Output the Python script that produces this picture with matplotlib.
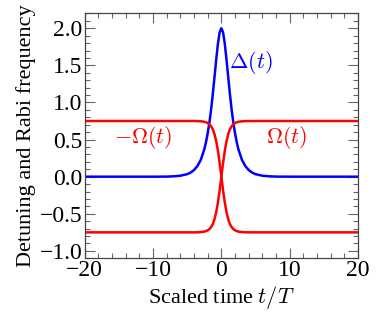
import matplotlib
matplotlib.use('Agg')
import matplotlib.pyplot as plt
from matplotlib.ticker import MultipleLocator

plt.rcParams['font.family'] = ['Liberation Serif', 'DejaVu Serif']
plt.rcParams['mathtext.fontset'] = 'cm'

# scaled time t/T
t = [-20, -14, -10, -8, -7, -6, -5, -4.5, -4, -3.5, -3, -2.5, -2.25, -2,
     -1.75, -1.5, -1.25, -1, -0.75, -0.5, -0.25, 0, 0.25, 0.5, 0.75, 1,
     1.25, 1.5, 1.75, 2, 2.25, 2.5, 3, 3.5, 4, 4.5, 5, 6, 7, 8, 10, 14, 20]

# detuning Delta(t)
delta = [0.0, 0.0, 0.0, 0.001, 0.005, 0.013, 0.034, 0.055, 0.089, 0.143,
         0.229, 0.367, 0.464, 0.583, 0.730, 0.905, 1.114, 1.344, 1.580,
         1.793, 1.945, 2.0, 1.945, 1.793, 1.580, 1.344, 1.114, 0.905, 0.730,
         0.583, 0.464, 0.367, 0.229, 0.143, 0.089, 0.055, 0.034, 0.013,
         0.005, 0.001, 0.0, 0.0, 0.0]

# Rabi frequency Omega(t)
omega = [-0.75, -0.75, -0.75, -0.75, -0.75, -0.75, -0.75, -0.75, -0.75,
         -0.749, -0.746, -0.74, -0.733, -0.723, -0.706, -0.679, -0.639,
         -0.571, -0.477, -0.347, -0.184, 0.0, 0.184, 0.347, 0.477, 0.571,
         0.639, 0.679, 0.706, 0.723, 0.733, 0.74, 0.746, 0.749, 0.75, 0.75,
         0.75, 0.75, 0.75, 0.75, 0.75, 0.75, 0.75]

# -Omega(t)
neg_omega = [0.75, 0.75, 0.75, 0.75, 0.75, 0.75, 0.75, 0.75, 0.75,
             0.749, 0.746, 0.74, 0.733, 0.723, 0.706, 0.679, 0.639,
             0.571, 0.477, 0.347, 0.184, 0.0, -0.184, -0.347, -0.477, -0.571,
             -0.639, -0.679, -0.706, -0.723, -0.733, -0.74, -0.746, -0.749,
             -0.75, -0.75, -0.75, -0.75, -0.75, -0.75, -0.75, -0.75, -0.75]

fig = plt.figure(figsize=(3.81, 3.27), dpi=100)
ax = fig.add_axes([0.222, 0.210, 0.718, 0.749])

ax.plot(t, delta, color='#0000ff', linewidth=1.8)
ax.plot(t, omega, color='#ff0000', linewidth=1.8)
ax.plot(t, neg_omega, color='#ff0000', linewidth=1.8)

ax.text(4.25, 1.54, r'$\Delta(t)$', color='#0000ff', fontsize=16,
        ha='center', va='center')
ax.text(-11.4, 0.53, r'$-\Omega(t)$', color='#ff0000', fontsize=16,
        ha='center', va='center')
ax.text(9.5, 0.53, r'$\Omega(t)$', color='#ff0000', fontsize=16,
        ha='center', va='center')

ax.set_xlim(-20, 20)
ax.set_ylim(-1.1, 2.2)
ax.xaxis.set_major_locator(MultipleLocator(10))
ax.xaxis.set_minor_locator(MultipleLocator(2))
ax.yaxis.set_major_locator(MultipleLocator(0.5))
ax.yaxis.set_minor_locator(MultipleLocator(0.1))
ax.tick_params(which='both', direction='in', top=True, right=True,
               labelsize=17, color='#666666', width=0.8)
ax.tick_params(which='major', length=7.5, pad=1.5)
ax.tick_params(which='minor', length=3.6)
for s in ax.spines.values():
    s.set_color('#444444')
    s.set_linewidth(0.9)

ax.set_xlabel(r'Scaled time $t/T$', fontsize=16, labelpad=2)
ax.set_ylabel('Detuning and Rabi frequency', fontsize=16, labelpad=3)

fig.savefig('out.png', dpi=100)
